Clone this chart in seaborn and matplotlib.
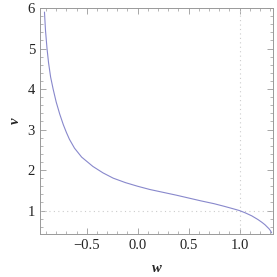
import seaborn as sns
import numpy as np
import matplotlib.pyplot as plt
from matplotlib.ticker import MultipleLocator

# points
w_vals = [-0.915, -0.905, -0.89, -0.875, -0.855, -0.83, -0.80, -0.765, -0.73,
          -0.70, -0.67, -0.62, -0.55, -0.44, -0.34, -0.24, -0.12, 0.0, 0.12,
          0.25, 0.38, 0.5, 0.62, 0.75, 0.85, 0.93, 1.0, 1.06, 1.12, 1.18,
          1.22, 1.25, 1.27, 1.29, 1.305, 1.315]
v_vals = [5.90, 5.45, 5.00, 4.65, 4.30, 4.00, 3.68, 3.38, 3.12,
          2.93, 2.76, 2.54, 2.32, 2.09, 1.93, 1.80, 1.69, 1.60, 1.52,
          1.45, 1.38, 1.31, 1.24, 1.17, 1.105, 1.05, 1.00, 0.94, 0.87, 0.78,
          0.71, 0.65, 0.60, 0.55, 0.50, 0.45]

sns.set_style("ticks")
plt.rcParams['font.family'] = ['Liberation Serif', 'DejaVu Serif']

fig = plt.figure(figsize=(2.77, 2.77), dpi=100)
ax = fig.add_axes([0.144, 0.155, 0.842, 0.816])

ax.axhline(1.0, color='#cccccc', lw=0.8, ls=(0, (1, 3)), zorder=1)
ax.axvline(1.0, color='#cccccc', lw=0.8, ls=(0, (1, 3)), zorder=1)

sns.lineplot(x=w_vals, y=v_vals, ax=ax, color='#8888cc', lw=0.8, sort=False)

ax.set_xlim(-0.96, 1.33)
ax.set_ylim(0.42, 6.0)
ax.xaxis.set_minor_locator(MultipleLocator(0.1))
ax.yaxis.set_minor_locator(MultipleLocator(0.2))
ax.set_xticks([-0.5, 0.0, 0.5, 1.0])
ax.set_xticklabels(['\u22120.5', '0.0', '0.5', '1.0'])
ax.set_yticks([1, 2, 3, 4, 5, 6])

ax.tick_params(which='both', direction='in', top=True, right=True,
               color='#999999', labelsize=10.5, labelcolor='#222222')
ax.tick_params(which='major', length=4, width=0.6)
ax.tick_params(which='minor', length=2, width=0.5)
for s in ax.spines.values():
    s.set_color('#999999')
    s.set_linewidth(0.7)

ax.set_xlabel('w', fontsize=10.5, fontweight='bold', fontstyle='italic', labelpad=7)
ax.set_ylabel('v', fontsize=10.5, fontweight='bold', fontstyle='italic', labelpad=4)

plt.savefig('out.png', dpi=100)
